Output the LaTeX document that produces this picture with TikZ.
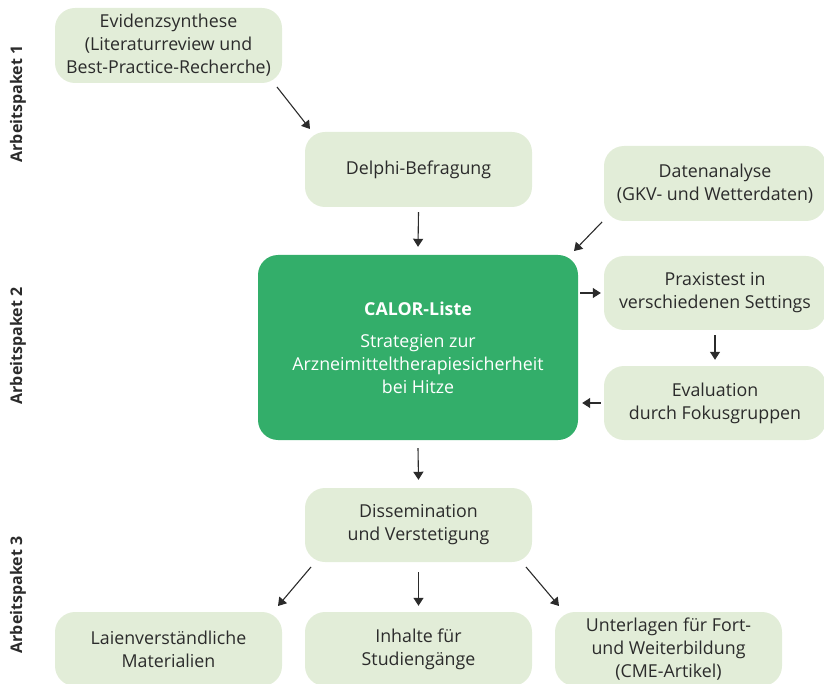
\documentclass[tikz,border=0pt]{standalone}
\usepackage{fontspec}
\setmainfont{Open Sans}
\usetikzlibrary{arrows.meta}
\definecolor{lightbox}{HTML}{E2EDD8}
\definecolor{darkbox}{HTML}{33AE6A}
\definecolor{txt}{HTML}{2B2B2B}
\begin{document}
\begin{tikzpicture}[x=1pt,y=-1pt,
  lbox/.style={fill=lightbox, rounded corners=20pt, align=center, text=txt,
    font=\fontsize{17.8}{23}\selectfont, inner sep=0pt},
  gbox/.style={fill=darkbox, rounded corners=20pt, align=center, text=white,
    font=\fontsize{17.8}{23}\selectfont, inner sep=0pt},
  arr/.style={draw=txt, line width=1.1pt, -{Triangle[width=10pt,length=8pt]}},
  aplabel/.style={rotate=90, font=\bfseries\fontsize{16}{18}\selectfont, text=txt}]
\useasboundingbox (0,0) rectangle (824,684);
\node[lbox, minimum width=227pt, minimum height=75pt] (evid) at (168.5,45.5)
  {Evidenzsynthese\\(Literaturreview und\\Best-Practice-Recherche)};
\node[lbox, minimum width=227pt, minimum height=75pt] (delphi) at (418.5,169.5)
  {Delphi-Befragung};
\node[lbox, minimum width=222pt, minimum height=75pt] (daten) at (715,183.5)
  {Datenanalyse\\(GKV- und Wetterdaten)};
\node[gbox, minimum width=320pt, minimum height=185pt] (calor) at (418,347.5)
  {\textbf{CALOR-Liste}\\[9pt]Strategien zur\\Arzneimitteltherapiesicherheit\\bei Hitze};
\node[lbox, minimum width=222pt, minimum height=74pt] (praxis) at (715,293)
  {Praxistest in\\verschiedenen Settings};
\node[lbox, minimum width=222pt, minimum height=74pt] (eval) at (715,403)
  {Evaluation\\durch Fokusgruppen};
\node[lbox, minimum width=227pt, minimum height=74pt] (diss) at (418.5,525)
  {Dissemination\\und Verstetigung};
\node[lbox, minimum width=227pt, minimum height=74pt] (laien) at (168.5,649)
  {Laienverständliche\\Materialien};
\node[lbox, minimum width=227pt, minimum height=74pt] (inhalte) at (418.5,649)
  {Inhalte für\\Studiengänge};
\node[lbox, minimum width=227pt, minimum height=74pt] (unter) at (668.5,649)
  {Unterlagen für Fort-\\und Weiterbildung\\(CME-Artikel)};
\node[aplabel] (ap1) at (18,104) {Arbeitspaket 1};
\node[aplabel] (ap2) at (18,346) {Arbeitspaket 2};
\node[aplabel] (ap3) at (18,595) {Arbeitspaket 3};
% arrows
\coordinate (a1s) at (277,87); \coordinate (a1e) at (310,129);
\draw[arr] (a1s) -- (a1e);
\draw[arr] ([yshift=-5pt]delphi.south) -- ([yshift=8pt]calor.north);
\coordinate (a3s) at (602,222); \coordinate (a3e) at (574,251);
\draw[arr] (a3s) -- (a3e);
\draw[arr] ([xshift=2pt]calor.east |- praxis.west) -- ([xshift=-3pt]praxis.west);
\draw[arr] ([yshift=-5pt]praxis.south) -- ([yshift=6pt]eval.north);
\draw[arr] ([xshift=-3pt]eval.west) -- ([xshift=4pt]calor.east |- eval.west);
\draw[arr] ([yshift=-8pt]calor.south) -- ([yshift=8pt]diss.north);
\coordinate (b1s) at (311,567); \coordinate (b1e) at (278,606);
\draw[arr] (b1s) -- (b1e);
\draw[arr] ([yshift=-10pt]diss.south) -- ([yshift=6pt]inhalte.north);
\coordinate (b3s) at (526,567); \coordinate (b3e) at (559,606);
\draw[arr] (b3s) -- (b3e);
\end{tikzpicture}
\end{document}
